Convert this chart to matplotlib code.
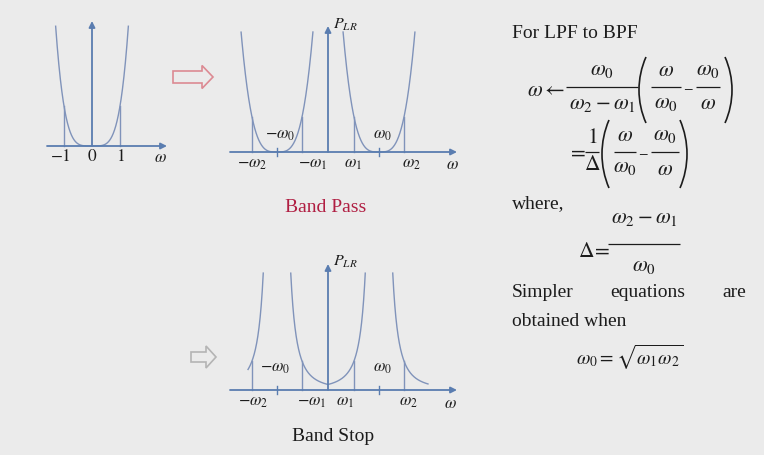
import numpy as np
import matplotlib
matplotlib.use("Agg")
import matplotlib.pyplot as plt
from matplotlib.patches import FancyArrow, Arc

plt.rcParams["font.family"] = ["Liberation Serif", "DejaVu Serif"]
plt.rcParams["mathtext.fontset"] = "stix"

W, H = 764, 456
BG = "#ebebeb"
AXC = "#5a7db0"
CURVE = "#8093ba"
TXT = "#1c1c1c"

# low pass prototype
lpf_ticks = [-1, 0, 1]
lpf_h, lpf_p, lpf_top = 40, 4.2, 120

# band edges (same for band pass and band stop)
w1, w0, w2 = 26, 51, 76
bp_h, bp_p, bp_top = 35, 3.4, 120
bs_h, bs_p, bs_top = 29, 2.33, 117
bs_outer = (80, 100)   # where the outer band stop branches end (left, right)

edge_labels = [r"$-\omega_2$", r"$-\omega_1$", r"$\omega_1$", r"$\omega_2$"]


fig = plt.figure(figsize=(W / 100, H / 100), dpi=100, facecolor=BG)
slide = fig.add_axes([0, 0, 1, 1])
slide.set_xlim(0, W)
slide.set_ylim(H, 0)
slide.axis("off")


def panel(ox, oy, left, right, down, up, unit=1.0):
    # axes whose origin sits at pixel (ox, oy), 1 y-unit = 1 px
    ax = fig.add_axes([(ox - left) / W, (H - oy - down) / H,
                       (left + right) / W, (down + up) / H])
    ax.set_xlim(-left / unit, right / unit)
    ax.set_ylim(-down, up)
    ax.axis("off")
    ax.patch.set_alpha(0)
    return ax


def arrows(ax, x0, x1, ytop):
    props = dict(arrowstyle="-|>", color=AXC, lw=1.3, mutation_scale=9,
                 shrinkA=0, shrinkB=0)
    ax.annotate("", xy=(x1, 0), xytext=(x0, 0), arrowprops=props)
    ax.annotate("", xy=(0, ytop), xytext=(0, 0), arrowprops=props)


# map w -> prototype frequency, passes through w1->-1, w0->0, w2->1
A = np.array([[w1, -1 / w1, 1], [w0, -1 / w0, 1], [w2, -1 / w2, 1]])
a, b, c = np.linalg.solve(A, [-1, 0, 1])


def xmap(w):
    return a * w - b / w + c


# ---------------- LPF ----------------
unit = 28
ax1 = panel(92, 147, 50, 80, 25, 130, unit)
arrows(ax1, -45 / unit, 75 / unit, 125)
u = np.linspace(-1.4, 1.4, 800)
P = lpf_h * np.abs(u) ** lpf_p
m = P <= lpf_top
ax1.plot(u[m], P[m], color=CURVE, lw=1.0)
for t in lpf_ticks:
    if t != 0:
        ax1.plot([t, t], [0, lpf_h * abs(t) ** lpf_p], color=CURVE, lw=1.0)
    lab = r"$-1$" if t < 0 else str(t)
    ax1.text(t - (0.12 if t < 0 else 0), -10, lab, ha="center", va="center",
             fontsize=12.5, color=TXT, family="STIXGeneral")
ax1.text(2.43, -11, r"$\omega$", ha="center", va="center", fontsize=12, color=TXT)

# ---------------- Band pass ----------------
ax2 = panel(328, 153, 100, 135, 25, 140)
arrows(ax2, -98, 129, 126)
w = np.linspace(0.5, 140, 4000)
P = bp_h * np.abs(xmap(w)) ** bp_p
m = P <= bp_top
ax2.plot(w[m], P[m], color=CURVE, lw=1.0)
ax2.plot(-w[m], P[m], color=CURVE, lw=1.0)
for e in (w1, w2):
    for s in (-1, 1):
        ax2.plot([s * e, s * e], [0, bp_h], color=CURVE, lw=1.0)
for s in (-1, 1):
    ax2.plot([s * w0, s * w0], [-4, 4], color=AXC, lw=1.0)
for x, lab in zip([-76, -15, 25, 83], edge_labels):
    ax2.text(x, -11, lab, ha="center", va="center", fontsize=12, color=TXT)
ax2.text(-48, 18, r"$-\omega_0$", ha="center", va="center", fontsize=12, color=TXT)
ax2.text(54, 18, r"$\omega_0$", ha="center", va="center", fontsize=12, color=TXT)
ax2.text(124, -12, r"$\omega$", ha="center", va="center", fontsize=12, color=TXT)
ax2.text(5, 128, r"$P_{LR}$", ha="left", va="center", fontsize=11.5, color=TXT)

# ---------------- Band stop ----------------
ax3 = panel(328, 391, 100, 135, 25, 140)
arrows(ax3, -98, 129, 126)
w = np.linspace(0.01, 140, 6000)
P = bs_h * np.abs(1 / xmap(w)) ** bs_p
mc = (w < w0) & (P <= bs_top)
ax3.plot(np.r_[-w[mc][::-1], w[mc]], np.r_[P[mc][::-1], P[mc]], color=CURVE, lw=1.0)
ml = (w > w0) & (w <= bs_outer[0]) & (P <= bs_top)
mr = (w > w0) & (w <= bs_outer[1]) & (P <= bs_top)
ax3.plot(-w[ml], P[ml], color=CURVE, lw=1.0)
ax3.plot(w[mr], P[mr], color=CURVE, lw=1.0)
for e in (w1, w2):
    for s in (-1, 1):
        ax3.plot([s * e, s * e], [0, bs_h], color=CURVE, lw=1.0)
for s in (-1, 1):
    ax3.plot([s * w0, s * w0], [-4, 4], color=AXC, lw=1.0)
for x, lab in zip([-75, -16, 17, 80], edge_labels):
    ax3.text(x, -11, lab, ha="center", va="center", fontsize=12, color=TXT)
ax3.text(-53, 23, r"$-\omega_0$", ha="center", va="center", fontsize=12, color=TXT)
ax3.text(54, 23, r"$\omega_0$", ha="center", va="center", fontsize=12, color=TXT)
ax3.text(122, -13, r"$\omega$", ha="center", va="center", fontsize=12, color=TXT)
ax3.text(5, 129, r"$P_{LR}$", ha="left", va="center", fontsize=11.5, color=TXT)

# ---------------- arrows & captions ----------------
slide.add_patch(FancyArrow(173, 78, 40, 0, width=12, head_width=23, head_length=11,
                           length_includes_head=True, fill=False, ec="#dc8a93", lw=1.2))
slide.add_patch(FancyArrow(191, 358, 25, 0, width=10, head_width=22, head_length=10,
                           length_includes_head=True, fill=False, ec="#b4b4b4", lw=1.2))
slide.text(326, 208, "Band Pass", ha="center", va="center", fontsize=14, color="#b01e42")
slide.text(333, 437, "Band Stop", ha="center", va="center", fontsize=14, color=TXT)

# ---------------- equations (built piece by piece) ----------------
fs = 14
mfs = 15.5


def mtext(x, y, s, ha="center", size=mfs):
    slide.text(x, y, s, ha=ha, va="center", fontsize=size, color=TXT)


def frac(xc, ybar, half, num, den, up=18, dn=17):
    slide.plot([xc - half, xc + half], [ybar, ybar], color=TXT, lw=0.9,
               solid_capstyle="butt")
    mtext(xc, ybar - up, num)
    mtext(xc, ybar + dn, den)


def paren(x_outer, yc, h, side, depth=7):
    r = ((h / 2) ** 2 + depth ** 2) / (2 * depth)
    ang = np.degrees(np.arcsin((h / 2) / r))
    if side == "l":
        slide.add_patch(Arc((x_outer + r, yc), 2 * r, 2 * r, theta1=180 - ang,
                            theta2=180 + ang, color=TXT, lw=1.2))
    else:
        slide.add_patch(Arc((x_outer - r, yc), 2 * r, 2 * r, theta1=-ang,
                            theta2=ang, color=TXT, lw=1.2))


slide.text(512, 34, "For LPF to BPF", ha="left", va="center", fontsize=fs, color=TXT)

# line 1
mtext(527, 91, r"$\omega \leftarrow$", ha="left")
frac(602, 88, 36, r"$\omega_0$", r"$\omega_2-\omega_1$")
paren(639, 91, 66, "l")
frac(666, 88, 15, r"$\omega$", r"$\omega_0$", up=16, dn=16)
mtext(688.5, 88, r"$-$", size=10)
frac(708, 88, 12, r"$\omega_0$", r"$\omega$")
paren(732, 91, 66, "r")

# line 2
mtext(567, 153, r"$=$", ha="left")
frac(592, 153, 7, r"$1$", r"$\Delta$", up=14, dn=13)
paren(602, 155, 68, "l")
frac(625, 153, 11, r"$\omega$", r"$\omega_0$", up=16, dn=15)
mtext(643, 153, r"$-$", size=10)
frac(665, 153, 14, r"$\omega_0$", r"$\omega$", up=17, dn=18)
paren(687, 155, 68, "r")

slide.text(512, 204, "where,", ha="left", va="center", fontsize=fs, color=TXT)

# delta
mtext(578, 253, r"$\Delta\!=$", ha="left")
frac(644, 245, 36, r"$\omega_2-\omega_1$", r"$\omega_0$", up=26, dn=22)

slide.text(512, 293, "Simpler", ha="left", va="center", fontsize=fs, color=TXT)
slide.text(648, 293, "equations", ha="center", va="center", fontsize=fs, color=TXT)
slide.text(746, 293, "are", ha="right", va="center", fontsize=fs, color=TXT)
slide.text(512, 322, "obtained when", ha="left", va="center", fontsize=fs, color=TXT)
slide.text(576, 357, r"$\omega_0=\sqrt{\omega_1\omega_2}$",
           ha="left", va="center", fontsize=fs, color=TXT)

fig.savefig("out.png", dpi=100, facecolor=BG)
